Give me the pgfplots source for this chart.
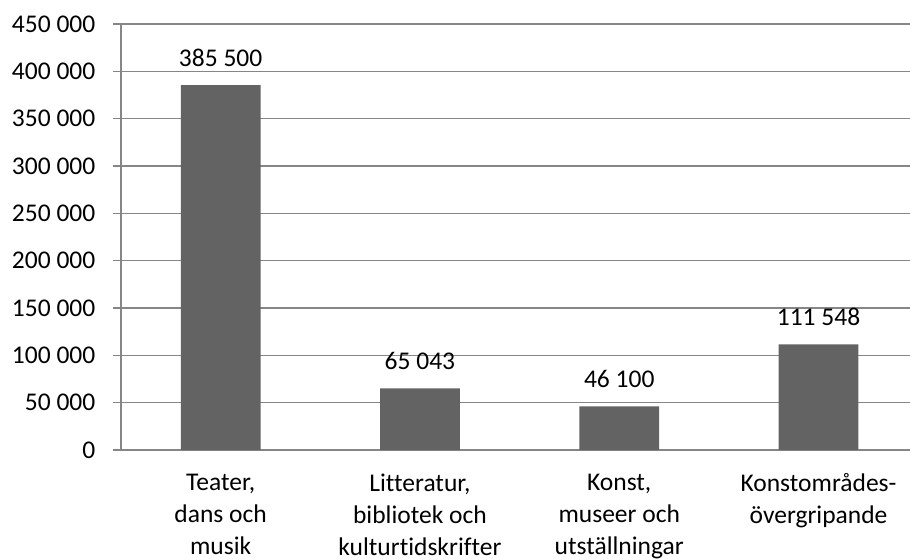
\documentclass[border=0pt]{standalone}
\usepackage{fontspec}
\setmainfont{Carlito}[Ligatures=NoCommon]
\usepackage{pgfplots}
\pgfplotsset{compat=1.18}
\definecolor{barfill}{RGB}{99,99,99}
\definecolor{gridcol}{RGB}{134,134,134}
\begin{document}
\fontsize{25.5bp}{32bp}\selectfont
\begin{tikzpicture}
\path[use as bounding box] (0bp,0bp) rectangle (910bp,560bp);
\begin{axis}[
  at={(121bp,110bp)}, anchor=south west,
  scale only axis, width=789bp, height=426bp,
  ybar, bar width=0.4,
  xmin=-0.5, xmax=3.459, ymin=0, ymax=450000,
  ytick={0,50000,100000,150000,200000,250000,300000,350000,400000,450000},
  yticklabels={0,50 000,100 000,150 000,200 000,250 000,300 000,350 000,400 000,450 000},
  scaled y ticks=false,
  ymajorgrids,
  major grid style={gridcol, line width=1.2bp},
  axis x line*=bottom, axis y line*=left,
  axis line style={gridcol, line width=1.2bp},
  tick align=outside,
  major tick length=8bp,
  tick style={gridcol, line width=1.2bp},
  xtick={0,1,2,3},
  xticklabels={{Teater,\\dans och\\musik},{Litteratur,\\bibliotek och\\kulturtidskrifter},{Konst,\\museer och\\utställningar},{Konstområdes-\\övergripande}},
  x tick style={draw=none},
  xticklabel style={align=center, anchor=north, yshift=-7bp},
  extra x ticks={-0.5,0.5,1.5,2.5},
  extra x tick labels={},
  extra x tick style={grid=none, tick style={gridcol, line width=1.2bp, draw=gridcol}},
  yticklabel style={anchor=east, xshift=-9bp},
  nodes near coords,
  point meta=explicit symbolic,
  every node near coord/.append style={anchor=south, yshift=10bp, text=black},
  clip=false,
]
\addplot[fill=barfill, draw=none] coordinates {
  (0,385500) [385 500]
  (1,65043) [65 043]
  (2,46100) [46 100]
  (3,111548) [111 548]
};
\end{axis}
\end{tikzpicture}
\end{document}
